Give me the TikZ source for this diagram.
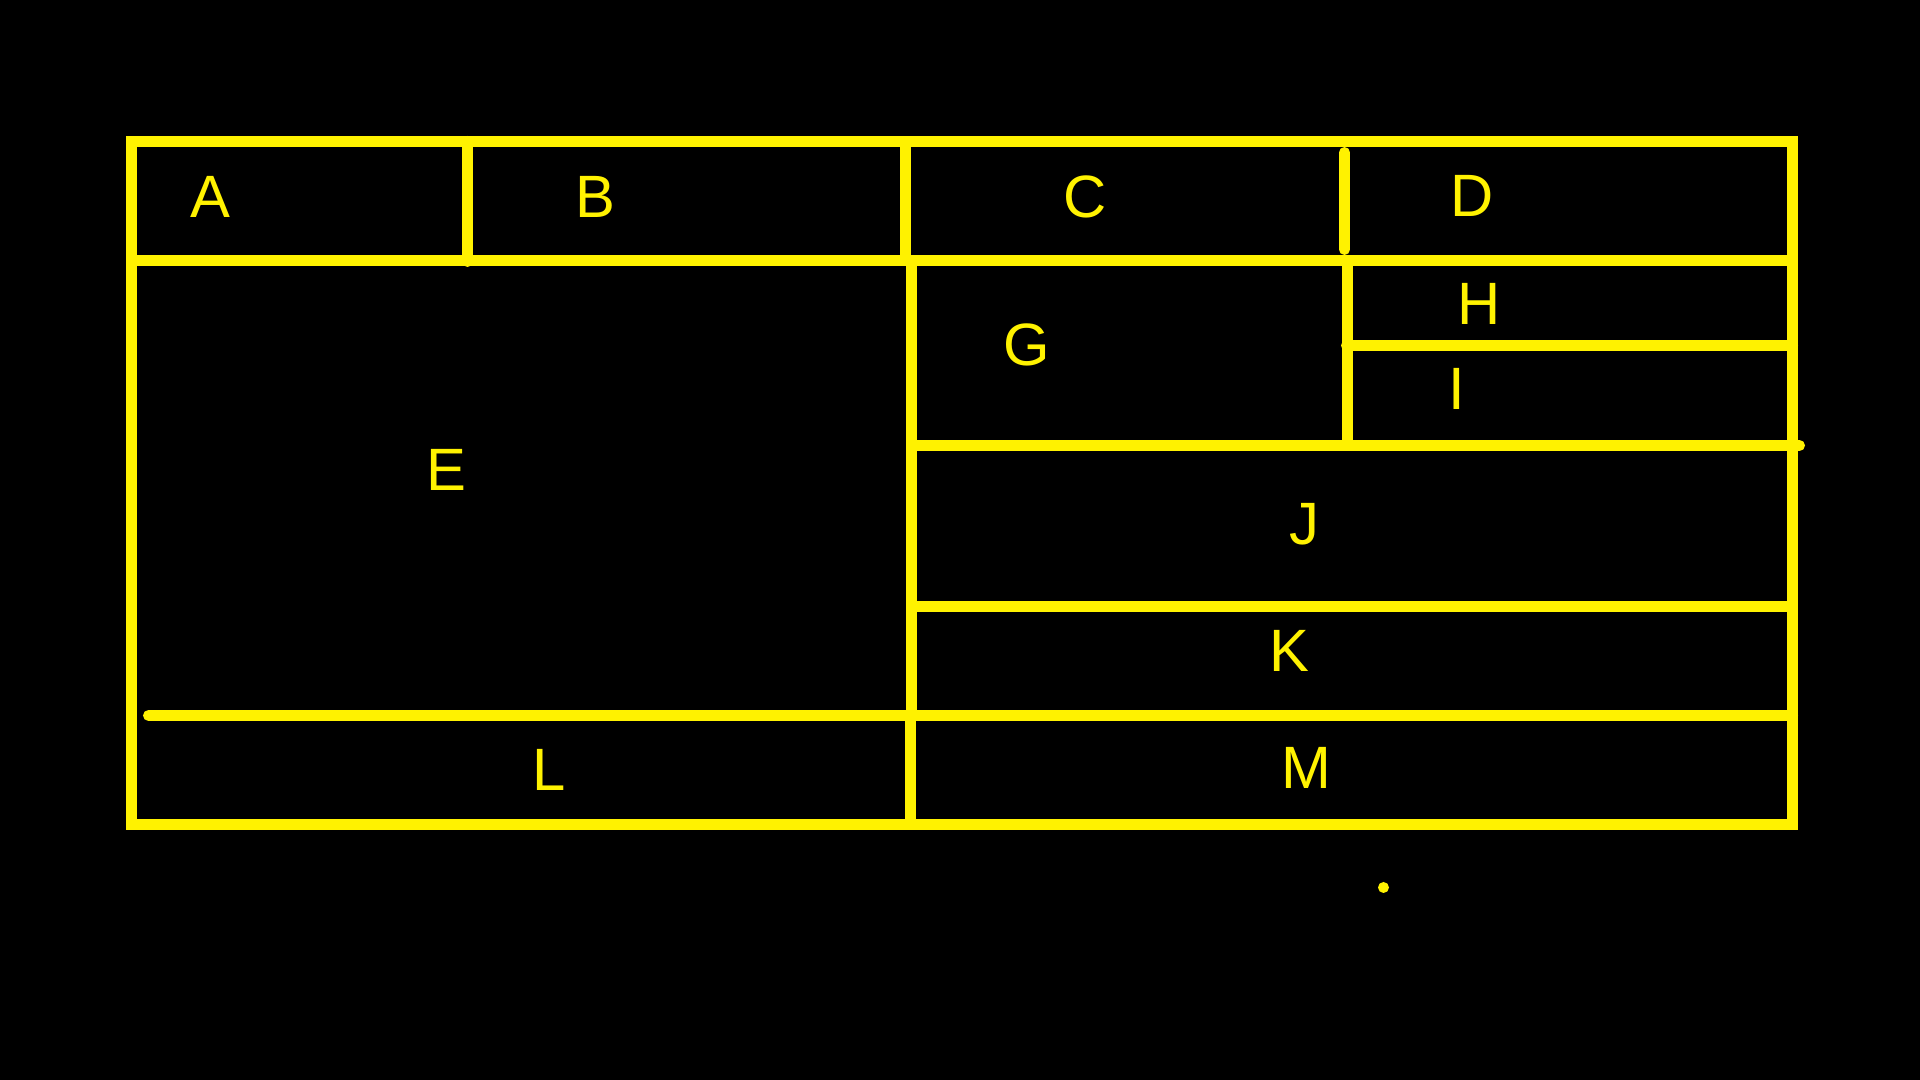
\documentclass[tikz,border=0pt]{standalone}
\usepackage{fontspec}
\setmainfont{Liberation Sans}
\usepackage{xcolor}
\usetikzlibrary{positioning}

\tikzset{
    wall/.style={draw=yellow, line width=3.13pt},
    roundwall/.style={wall, line cap=round},
    cell/.style={text=yellow, inner sep=0pt, font=\fontsize{17}{20}\selectfont}
}

\begin{document}
\begin{tikzpicture}[x=0.01cm,y=-0.01cm]
 % Background
 \fill[black] (0,0) rectangle (1920,1080);
 \useasboundingbox (0,0) rectangle (1920,1080);

 % Outer frame
 \draw[wall] (131.5,141.5) rectangle (1792.5,824.5);

 % Header row
 \draw[wall] (131.5,260.5) -- (1792.5,260.5);
 \draw[roundwall] (467.5,141.5) -- (467.5,261.5);
 \draw[wall] (905.5,141.5) -- (905.5,260.5);
 \draw[roundwall] (1344.5,152.5) -- (1344.5,249.5);

 % Middle split
 \draw[wall] (911.5,260.5) -- (911.5,715.5);
 \draw[wall] (910.5,715.5) -- (910.5,824.5);
 \draw[wall] (1347.5,260.5) -- (1347.5,445.5);
 \draw[roundwall] (1346.5,345.5) -- (1792.5,345.5);
 \draw[roundwall] (911.5,445.5) -- (1799.5,445.5);
 \draw[wall] (911.5,606.5) -- (1792.5,606.5);
 \draw[roundwall] (148.5,715.5) -- (1792.5,715.5);

 % Stray dot
 \fill[yellow] (1383.5,887.5) circle[radius=5.5];

 % Labels
 \node[cell] (cellA) at (210.5,196.5) {A};
 \node[cell] (cellB) at (595.5,196.5) {B};
 \node[cell] (cellC) at (1085,197) {C};
 \node[cell] (cellD) at (1472.5,196) {D};
 \node[cell] (cellE) at (446.5,470) {E};
 \node[cell] (cellG) at (1027,345) {G};
 \node[cell] (cellH) at (1479,304) {H};
 \node[cell] (cellI) at (1457,388.5) {I};
 \node[cell] (cellJ) at (1304.5,524.5) {J};
 \node[cell] (cellK) at (1289,651) {K};
 \node[cell] (cellL) at (549.5,770) {L};
 \node[cell] (cellM) at (1306,768) {M};
\end{tikzpicture}
\end{document}
